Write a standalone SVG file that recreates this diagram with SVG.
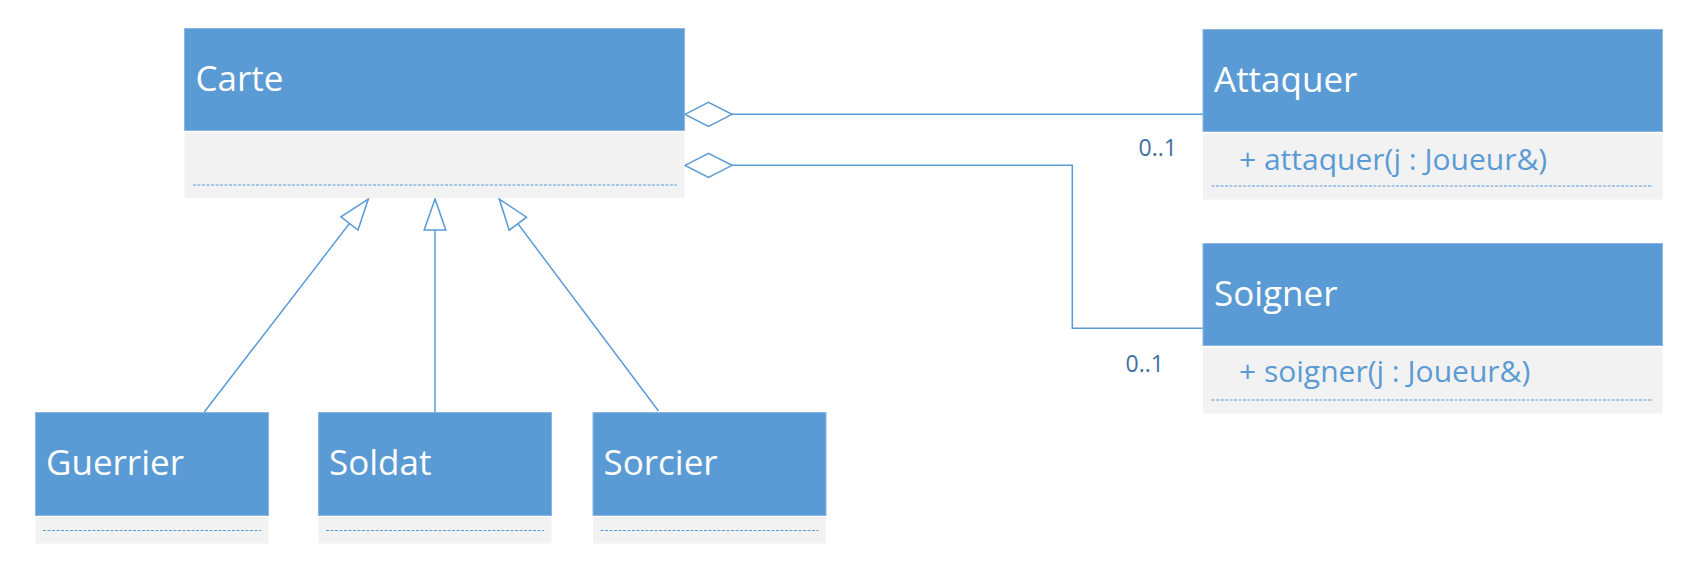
<svg xmlns="http://www.w3.org/2000/svg" width="1704" height="578" viewBox="0 0 1704 578">
<style>
.hd{fill:#5b9bd5;stroke:#8ab6e0;stroke-width:1}
.bd{fill:#f2f2f2}
.dash{stroke:#5b9bd5;stroke-width:1;stroke-dasharray:3 1.5;fill:none}
.name{font-family:"Open Sans","Noto Sans",sans-serif;font-size:35px;fill:#ffffff}
.op{font-family:"Open Sans","Noto Sans",sans-serif;font-size:30px;fill:#5b9bd5}
.mult{font-family:"Open Sans","Noto Sans",sans-serif;font-size:23px;fill:#41719c}
.conn{stroke:#5b9bd5;stroke-width:1.5;fill:none}
</style>
<defs>
<marker id="diamond" markerUnits="userSpaceOnUse" markerWidth="50" markerHeight="28" viewBox="-1 -1 50 28" refX="0" refY="12" orient="auto">
<path d="M0,12 L23.5,0 L47,12 L23.5,24 Z" fill="#ffffff" stroke="#5b9bd5" stroke-width="1.5"/>
</marker>
<marker id="tri" markerUnits="userSpaceOnUse" markerWidth="34" markerHeight="25" viewBox="-1 -1 33 23" refX="30" refY="10.5" orient="auto">
<path d="M0,0 L30,10.5 L0,21 Z" fill="#ffffff" stroke="#5b9bd5" stroke-width="1.5"/>
</marker>
</defs>
<g id="connectors">
<path class="conn" d="M685,114.3 L1203,114.3" marker-start="url(#diamond)"/>
<path class="conn" d="M685,165.3 L1072.3,165.3 L1072.3,328.3 L1203,328.3" marker-start="url(#diamond)"/>
<path class="conn" d="M204.3,412 L368.3,199" marker-end="url(#tri)"/>
<path class="conn" d="M435,412 L435,199" marker-end="url(#tri)"/>
<path class="conn" d="M658.5,411 L499.3,199" marker-end="url(#tri)"/>
<text class="mult" x="1138.5" y="156">0..1</text>
<text class="mult" x="1125.5" y="371.5">0..1</text>
</g>
<g id="Carte">
<rect class="hd" x="184.5" y="28.5" width="500" height="102"/>
<rect class="bd" x="184.5" y="132" width="500" height="66"/>
<line class="dash" x1="193" y1="185" x2="677" y2="185"/>
<text class="name" x="195.5" y="91">Carte</text>
</g>
<g id="Attaquer">
<rect class="hd" x="1203" y="29.5" width="459.5" height="102"/>
<rect class="bd" x="1203" y="133.5" width="459.5" height="66"/>
<line class="dash" x1="1211.5" y1="186" x2="1653" y2="186"/>
<text class="name" x="1214" y="91.5">Attaquer</text>
<text class="op" x="1239" y="170">+ attaquer(j : Joueur&amp;)</text>
</g>
<g id="Soigner">
<rect class="hd" x="1203" y="243.5" width="459.5" height="102"/>
<rect class="bd" x="1203" y="347.5" width="459.5" height="66"/>
<line class="dash" x1="1211.5" y1="400" x2="1653" y2="400"/>
<text class="name" x="1214" y="305.5">Soigner</text>
<text class="op" x="1239" y="382">+ soigner(j : Joueur&amp;)</text>
</g>
<g id="Guerrier">
<rect class="hd" x="35.5" y="412.5" width="233" height="103"/>
<rect class="bd" x="35.5" y="517" width="233" height="26.5"/>
<line class="dash" x1="43" y1="530.5" x2="261" y2="530.5"/>
<text class="name" x="46" y="475">Guerrier</text>
</g>
<g id="Soldat">
<rect class="hd" x="318.5" y="412.5" width="233" height="103"/>
<rect class="bd" x="318.5" y="517" width="233" height="26.5"/>
<line class="dash" x1="326" y1="530.5" x2="544" y2="530.5"/>
<text class="name" x="329" y="475">Soldat</text>
</g>
<g id="Sorcier">
<rect class="hd" x="593" y="412.5" width="233" height="103"/>
<rect class="bd" x="593" y="517" width="233" height="26.5"/>
<line class="dash" x1="600.5" y1="530.5" x2="818.5" y2="530.5"/>
<text class="name" x="603.5" y="475">Sorcier</text>
</g>
</svg>
